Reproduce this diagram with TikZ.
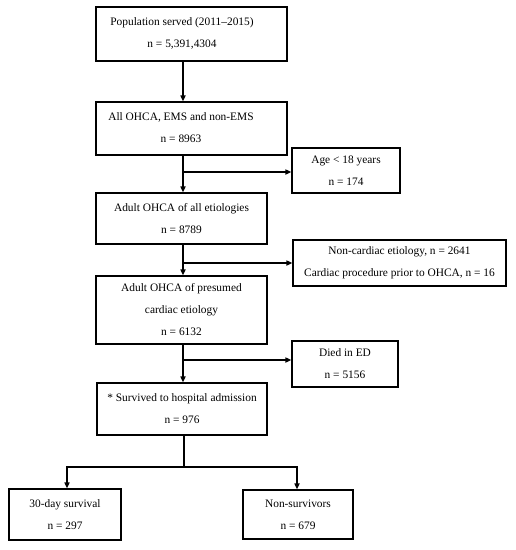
\documentclass[tikz,border=0pt]{standalone}
\usepackage{fontspec}
\setmainfont{Liberation Serif}
\usetikzlibrary{arrows.meta}
\begin{document}
\begin{tikzpicture}[x=1pt,y=-1pt,
 box/.style={draw, line width=1.1pt, inner sep=0pt, align=center, font=\fontsize{11.4}{22}\selectfont},
 txt/.style={inner sep=0pt, align=center, font=\fontsize{11.4}{22}\selectfont},
 arr/.style={line width=1.5pt, -{Triangle[length=6pt,width=5pt]}},
 ln/.style={line width=1.5pt}]
\useasboundingbox (0,0) rectangle (516,550);
\node[box, minimum width=191pt, minimum height=54pt] (pop) at (191.5,34) {};
\node[txt] (popt) at (182,33) {Population served (2011–2015)\\n = 5,391,4304};
\node[box, minimum width=191pt, minimum height=53pt] (all) at (191.5,128.5) {};
\node[txt] (allt) at (181,128) {All OHCA, EMS and non-EMS\\n = 8963};
\node[box, minimum width=108pt, minimum height=45pt] (age) at (346,170.5) {Age < 18 years\\n = 174};
\node[box, minimum width=171pt, minimum height=51pt] (adult) at (181.5,218.5) {Adult OHCA of all etiologies\\n = 8789};
\node[box, minimum width=213pt, minimum height=46pt] (nc) at (399.5,263) {Non-cardiac etiology, n = 2641\\Cardiac procedure prior to OHCA, n = 16};
\node[box, minimum width=171pt, minimum height=68pt] (pres) at (181.5,310) {Adult OHCA of presumed\\cardiac etiology\\n = 6132};
\node[box, minimum width=106pt, minimum height=46pt] (died) at (345,364) {Died in ED\\n = 5156};
\node[box, minimum width=170pt, minimum height=52pt] (surv) at (182,409) {* Survived to hospital admission\\n = 976};
\node[box, minimum width=112pt, minimum height=51pt] (thirty) at (65,514.5) {30-day survival\\n = 297};
\node[box, minimum width=110pt, minimum height=49pt] (nons) at (298,514.5) {Non-survivors\\n = 679};
\coordinate (t1) at (183,0);
\draw[arr] (pop.south -| t1) -- (all.north -| t1);
\draw[arr] (all.south -| t1) -- (adult.north -| t1);
\coordinate (b1) at (183,172);
\draw[arr] (b1) -- (b1 -| age.west);
\draw[arr] (adult.south -| t1) -- (pres.north -| t1);
\coordinate (b2) at (183,263);
\draw[arr] (b2) -- (b2 -| nc.west);
\draw[arr] (pres.south -| t1) -- (surv.north -| t1);
\coordinate (b3) at (183,360);
\draw[arr] (b3) -- (b3 -| died.west);
\coordinate (t2) at (184,467);
\coordinate (l) at (67,467);
\coordinate (r) at (297,467);
\draw[ln] (surv.south -| t2) -- (t2);
\draw[arr] (t2) -- (l) -- (l |- thirty.north);
\draw[arr] (t2) -- (r) -- (r |- nons.north);
\end{tikzpicture}
\end{document}
